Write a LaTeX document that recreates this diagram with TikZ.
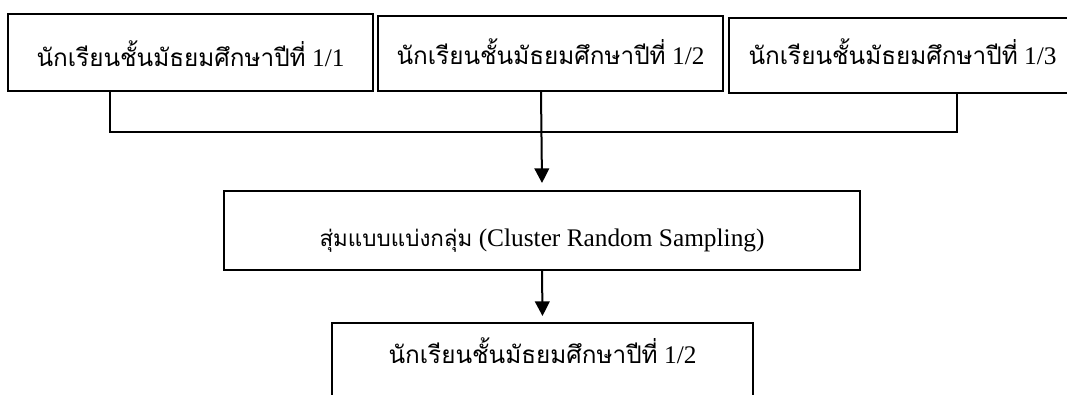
\documentclass[tikz,border=0pt]{standalone}
\usepackage{fontspec}
\setmainfont{Liberation Serif}
\newfontfamily\thai[Script=Thai,Scale=0.96]{Loma}
\usetikzlibrary{arrows.meta}
\begin{document}
\begin{tikzpicture}[x=0.75pt,y=-0.75pt,
  box/.style={draw, line width=1.5pt, inner sep=0pt, font=\fontsize{19}{23}\selectfont},
  conn/.style={line width=1.5pt},
  arr/.style={conn, -{Triangle[length=11pt,width=11pt]}}]
\clip (0,0) rectangle (1067,394);
\fill[white] (0,0) rectangle (1067,394);
\node[box, anchor=north west, minimum width=273.75pt, text height=39pt, text depth=18.75pt] (b1) at (7,13) {{\thai นักเรียนชั้นมัธยมศึกษาปีที่} 1/1};
\node[box, anchor=north west, minimum width=258.75pt, text height=36pt, text depth=20.25pt] (b2) at (377,15) {{\thai นักเรียนชั้นมัธยมศึกษาปีที่} 1/2};
\node[box, anchor=north west, minimum width=260.25pt, text height=34.5pt, text depth=21.75pt] (b3) at (728,17) {{\thai นักเรียนชั้นมัธยมศึกษาปีที่} 1/3};
\node[box, anchor=north west, minimum width=477pt, text height=41.25pt, text depth=18pt] (mid) at (223,190) {{\thai\fontsize{17.5}{21}\selectfont สุ่มแบบแบ่งกลุ่ม} (Cluster Random Sampling)};
\node[box, anchor=north west, minimum width=315.75pt, text height=30pt, text depth=28.5pt] (res) at (331,322) {{\thai นักเรียนชั้นมัธยมศึกษาปีที่} 1/2};
\coordinate (jl) at (110,132);
\coordinate (jm) at (541,132);
\coordinate (jr) at (957,132);
\draw[conn] (b1.south -| jl) -- (jl) -- (jr) -- (b3.south -| jr);
\draw[arr] (b2.south -| jm) -- ([yshift=5.25pt]mid.north);
\draw[arr] (mid.south) -- ([yshift=4.5pt]res.north);
\end{tikzpicture}
\end{document}
